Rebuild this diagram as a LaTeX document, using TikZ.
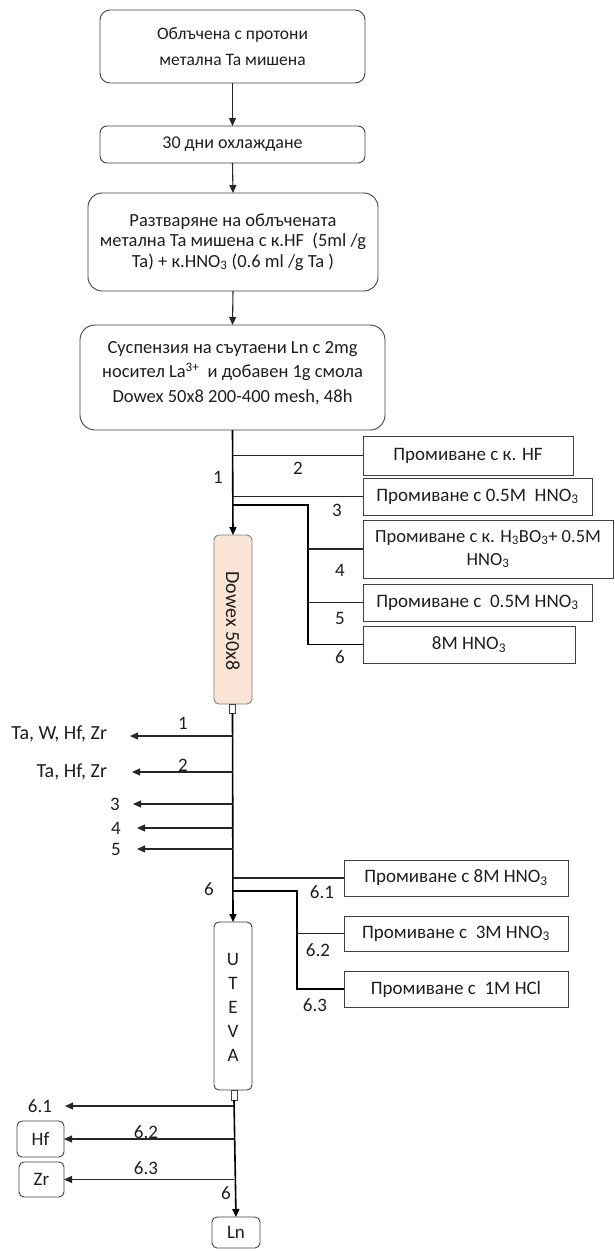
\documentclass[tikz,border=0pt]{standalone}
\usepackage{fontspec}
\setmainfont{Carlito}
\usetikzlibrary{arrows.meta}
\definecolor{peach}{HTML}{FBE5D6}
\definecolor{boxline}{HTML}{404040}
\definecolor{txt}{HTML}{1E1E1E}
\begin{document}
\begin{tikzpicture}[x=1pt,y=-1pt,
  every node/.style={inner sep=0pt,outer sep=0pt,text=txt,font=\fontsize{19}{22}\selectfont},
  procbox/.style={draw=boxline,line width=0.9pt,rounded corners=10pt,align=center},
  washbox/.style={draw=boxline,line width=0.9pt,align=center},
  colbox/.style={draw=gray,line width=0.9pt,fill=peach,rounded corners=5pt},
  endbox/.style={draw=boxline,line width=0.9pt,rounded corners=5pt},
  nubbox/.style={draw=boxline,line width=0.7pt,fill=white},
  bigtxt/.style={font=\fontsize{20}{22}\selectfont},
  lbl/.style={},
  flow/.style={line width=1.6pt,black},
  thinline/.style={line width=1.1pt,black!85},
  tip/.style={-{Triangle[length=8pt,width=7pt]}}
]
\useasboundingbox (0,0) rectangle (615,1251);
% main process boxes
\node[procbox,minimum width=265pt,minimum height=73pt,font=\fontsize{17.5}{26}\selectfont] (b1) at (232.5,46.5)
  {Облъчена с протони\\метална Та мишена};
\node[procbox,minimum width=265pt,minimum height=37pt,rounded corners=7pt,font=\fontsize{18}{22}\selectfont] (b2) at (232.5,144.5) {30 дни охлаждане};
\node[procbox,minimum width=290pt,minimum height=98pt,rounded corners=14pt,font=\fontsize{18.5}{20.5}\selectfont] (b3) at (233,242)
  {Разтваряне на облъчената\\метална Та мишена с к.HF\ \ (5ml /g\\Ta) + к.HNO\textsubscript{3} (0.6 ml /g Ta )};
\node[procbox,minimum width=305pt,minimum height=105pt,rounded corners=15pt,font=\fontsize{18.5}{24.5}\selectfont] (b4) at (232.5,377.5) {};
\node[align=center,font=\fontsize{18.5}{24.5}\selectfont] (b4t) at (232.5,373)
  {Суспензия на съутаени Ln с 2mg\\носител La\textsuperscript{3+}\ \ и добавен 1g смола\\Dowex 50x8 200-400 mesh, 48h};
% columns
\node[colbox,minimum width=38pt,minimum height=169pt] (dowex) at (233,619.5) {};
\node[rotate=-90,bigtxt] (dowext) at (233,621) {Dowex 50x8};
\node[nubbox,minimum width=6pt,minimum height=9pt] (nub1) at (232.5,708.5) {};
\node[colbox,fill=white,draw=boxline,minimum width=38pt,minimum height=168pt] (uteva) at (233,1006) {};
\node[align=center,font=\fontsize{19}{24}\selectfont] (utevat) at (233,1007) {U\\T\\E\\V\\A};
\node[nubbox,minimum width=6pt,minimum height=10pt] (nub2) at (234,1095) {};
% wash boxes (Dowex)
\node[washbox,minimum width=210pt,minimum height=39pt] (w1) at (468,455.5) {Промиване с к. HF};
\node[washbox,minimum width=229pt,minimum height=37pt] (w2) at (477.5,496.5) {Промиване с 0.5M\ \ HNO\textsubscript{3}};
\node[washbox,minimum width=250pt,minimum height=58pt,font=\fontsize{18.5}{23}\selectfont] (w3) at (488,549) {Промиване с к. H\textsubscript{3}BO\textsubscript{3}+ 0.5M\\HNO\textsubscript{3}};
\node[washbox,minimum width=229pt,minimum height=37pt] (w4) at (477.5,602.5) {Промиване с\ \ 0.5M HNO\textsubscript{3}};
\node[washbox,minimum width=212pt,minimum height=37pt] (w5) at (469,644.5) {8M HNO\textsubscript{3}};
% wash boxes (UTEVA)
\node[washbox,minimum width=224pt,minimum height=36pt] (v1) at (456,878) {Промиване с 8M HNO\textsubscript{3}};
\node[washbox,minimum width=224pt,minimum height=35pt] (v2) at (456,933.5) {Промиване с\ \ 3M HNO\textsubscript{3}};
\node[washbox,minimum width=224pt,minimum height=36pt] (v3) at (456,989) {Промиване с\ \ 1M HCl};
% end boxes
\node[endbox,minimum width=47pt,minimum height=36pt] (hf) at (40.5,1139) {Hf};
\node[endbox,minimum width=45pt,minimum height=35pt] (zr) at (41.5,1179.5) {Zr};
\node[endbox,minimum width=48pt,minimum height=31pt] (ln) at (236,1232.5) {Ln};
% output texts
\node[anchor=east,bigtxt] (o1) at (107,734) {Ta, W, Hf, Zr};
\node[anchor=east,bigtxt] (o2) at (107,772) {Ta, Hf, Zr};
\node (o3) at (115,804) {3};
\node (o4) at (116,828) {4};
\node (o5) at (116,849) {5};
\node (o61) at (40,1106) {6.1};
% labels
\node[lbl] (l1) at (218,477) {1};
\node[lbl] (l2) at (298,468) {2};
\node[lbl] (l3) at (337,510) {3};
\node[lbl] (l4) at (340,570) {4};
\node[lbl] (l5) at (340,618) {5};
\node[lbl] (l6) at (340,657) {6};
\node[lbl] (d1) at (183,723) {1};
\node[lbl] (d2) at (183,765) {2};
\node[lbl] (u6) at (209,889) {6};
\node[lbl] (u61) at (322,892) {6.1};
\node[lbl] (u62) at (318,950) {6.2};
\node[lbl] (u63) at (315,1005) {6.3};
\node[lbl] (e62) at (146,1132) {6.2};
\node[lbl] (e63) at (146,1168) {6.3};
\node[lbl] (e6) at (226,1193) {6};
% coordinates
\coordinate (ja) at (233,505);
\coordinate (jb) at (308,505);
\coordinate (jc) at (233,891);
\coordinate (jd) at (297,891);
\coordinate (t1) at (130,736);
\coordinate (t2) at (132,772);
\coordinate (t3) at (133,804);
\coordinate (t4) at (137,828);
\coordinate (t5) at (137,849);
\coordinate (t61) at (65,1106);
% main flow
\draw[thinline,tip] (b1.south) -- (b2.north);
\draw[thinline,tip] (b2.south) -- (b3.north);
\draw[thinline,tip] (b3.south) -- (b4.north);
\draw[flow,tip] (b4.south) -- (dowex.north);
\draw[flow,tip] (nub1.south) -- (uteva.north);
\draw[flow,tip] (nub2.south) -- (ln.north);
% Dowex inputs
\draw[thinline] (w1.west) -- (w1.west -| b4.south);
\draw[thinline] (w2.west) -- (w2.west -| b4.south);
\draw[flow] (ja) -- (jb) -- (jb |- w5.west) -- (w5.west);
\draw[thinline] (w3.west) -- (w3.west -| jb);
\draw[thinline] (w4.west) -- (w4.west -| jb);
% Dowex outputs
\draw[thinline,tip] (t1 -| nub1.south) -- (t1);
\draw[thinline,tip] (t2 -| nub1.south) -- (t2);
\draw[thinline,tip] (t3 -| nub1.south) -- (t3);
\draw[thinline,tip] (t4 -| nub1.south) -- (t4);
\draw[thinline,tip] (t5 -| nub1.south) -- (t5);
% UTEVA inputs
\draw[thinline] (v1.west) -- (v1.west -| uteva.north);
\draw[flow] (jc) -- (jd) -- (jd |- v3.west) -- (v3.west);
\draw[thinline] (v2.west) -- (v2.west -| jd);
% UTEVA outputs
\draw[thinline,tip] (t61 -| nub2.south) -- (t61);
\draw[thinline,tip] (hf.east -| nub2.south) -- (hf.east);
\draw[thinline,tip] (zr.east -| nub2.south) -- (zr.east);
\end{tikzpicture}
\end{document}
